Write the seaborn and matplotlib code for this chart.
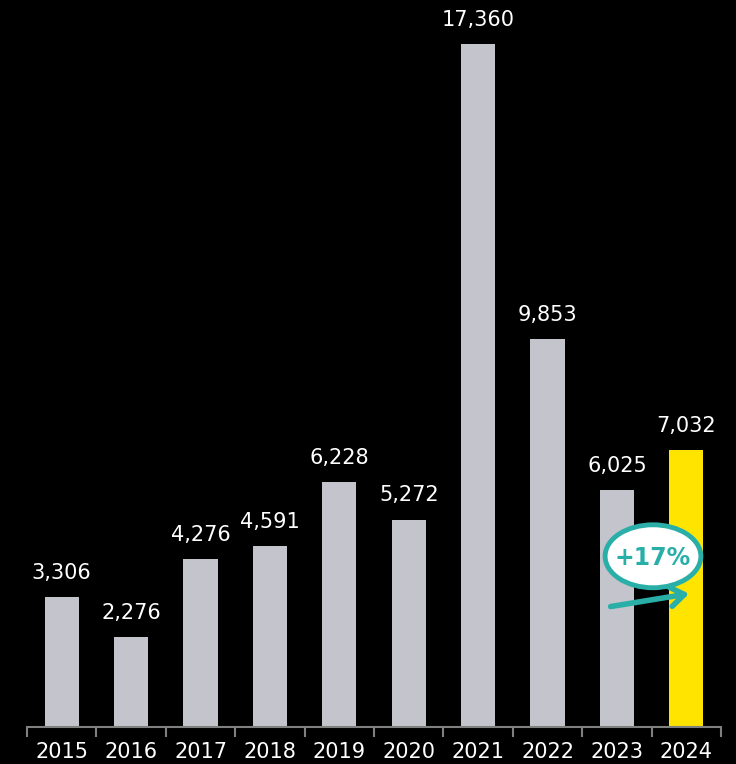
import matplotlib
matplotlib.use("Agg")
import matplotlib.pyplot as plt
from matplotlib.patches import Ellipse, FancyArrowPatch
import seaborn as sns
import pandas as pd

years = ["2015", "2016", "2017", "2018", "2019", "2020", "2021", "2022", "2023", "2024"]
values = [3306, 2276, 4276, 4591, 6228, 5272, 17360, 9853, 6025, 7032]
highlight_year = "2024"
growth_label = "+17%"

grey = "#C4C4CC"
yellow = "#FFE400"
teal = "#2AAFA8"

df = pd.DataFrame({"year": years, "value": values})
palette = {y: (yellow if y == highlight_year else grey) for y in years}

sns.set_theme(style="white")
plt.rcParams["font.family"] = ["DejaVu Sans"]

fig = plt.figure(figsize=(7.36, 7.64), dpi=100, facecolor="black")
ax = fig.add_axes([27 / 736, 37 / 764, 694 / 736, 727 / 764])
ax.set_facecolor("black")

sns.barplot(data=df, x="year", y="value", hue="year", palette=palette,
            legend=False, width=0.49, saturation=1, linewidth=0,
            edgecolor="none", ax=ax)

ax.set_xlim(-0.5, len(years) - 0.5)
ax.set_ylim(0, 18480)

# value labels above bars
for i, v in enumerate(values):
    ax.text(i, v + 360, f"{v:,}", ha="center", va="bottom",
            color="white", fontsize=15)

# axis styling
for s in ["top", "right", "left"]:
    ax.spines[s].set_visible(False)
ax.spines["bottom"].set_color("#808080")
ax.spines["bottom"].set_linewidth(1.5)
ax.set_yticks([])
ax.set_xlabel("")
ax.set_ylabel("")
ax.set_xticks(range(len(years)))
ax.set_xticklabels(years, color="white", fontsize=15)
ax.tick_params(axis="x", which="major", bottom=False, length=0, pad=11)
ax.set_xticks([i - 0.5 for i in range(len(years) + 1)], minor=True)
ax.tick_params(axis="x", which="minor", bottom=True, direction="out",
               length=7, width=1.5, color="#808080")

# growth badge
badge = Ellipse((8.52, 4340), width=1.38, height=1600, facecolor="white",
                edgecolor=teal, linewidth=3.5, zorder=5, clip_on=False)
ax.add_patch(badge)
ax.text(8.52, 4300, growth_label, ha="center", va="center", color=teal,
        fontsize=17, fontweight="bold", zorder=6)

arrow = FancyArrowPatch((7.87, 3050), (9.08, 3400),
                        arrowstyle="->,head_length=5,head_width=3.5",
                        color=teal, linewidth=4, mutation_scale=2, zorder=6,
                        capstyle="round", joinstyle="round")
ax.add_patch(arrow)

fig.savefig("out.png", dpi=100, facecolor="black")
